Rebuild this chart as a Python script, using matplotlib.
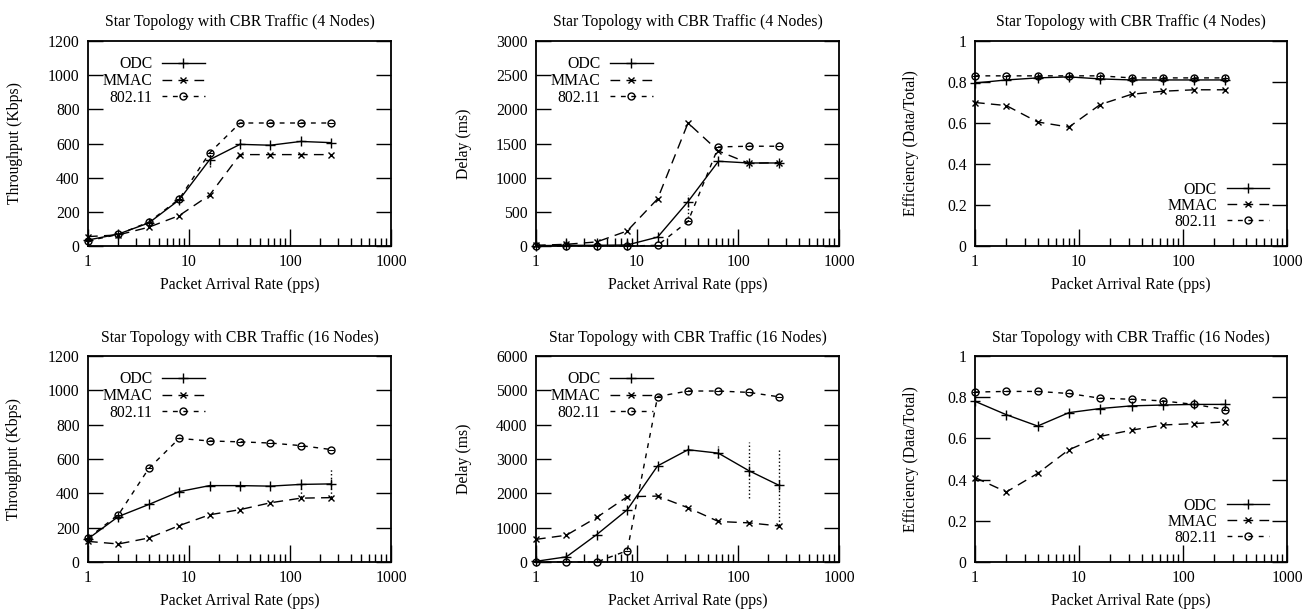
import matplotlib
matplotlib.use('Agg')
import matplotlib.pyplot as plt
from matplotlib.ticker import FormatStrFormatter, NullFormatter, NullLocator, LogLocator

plt.rcParams['font.family'] = ['Liberation Serif', 'DejaVu Serif']
plt.rcParams['font.size'] = 11.3

# packet arrival rates (pps)
rates = [1, 2, 4, 8, 16, 32, 64, 128, 256]
series_names = ['ODC', 'MMAC', '802.11']
x_ticks = [1, 10, 100, 1000]
x_tick_labels = ['1', '10', '100', '1000']

# 4 nodes
thr4_odc = [35, 70, 135, 270, 505, 595, 590, 612, 605]
thr4_mmac = [55, 65, 110, 178, 298, 535, 535, 535, 535]
thr4_wifi = [30, 68, 140, 275, 545, 720, 720, 720, 720]

dly4_odc = [5, 10, 10, 15, 130, 650, 1240, 1215, 1215]
dly4_mmac = [10, 25, 60, 220, 690, 1800, 1390, 1210, 1220]
dly4_wifi = [0, 0, 0, 0, 10, 360, 1450, 1460, 1460]

eff4_odc = [0.795, 0.81, 0.82, 0.825, 0.815, 0.81, 0.81, 0.81, 0.81]
eff4_mmac = [0.70, 0.685, 0.605, 0.58, 0.69, 0.74, 0.755, 0.762, 0.762]
eff4_wifi = [0.83, 0.83, 0.83, 0.83, 0.83, 0.82, 0.82, 0.82, 0.82]

# 16 nodes
thr16_odc = [135, 265, 335, 410, 445, 445, 442, 452, 455]
thr16_mmac = [120, 105, 140, 212, 275, 305, 345, 372, 375]
thr16_wifi = [140, 275, 545, 720, 705, 700, 693, 678, 655]

dly16_odc = [20, 150, 800, 1520, 2800, 3270, 3170, 2660, 2230]
dly16_mmac = [660, 780, 1300, 1900, 1920, 1580, 1180, 1140, 1050]
dly16_wifi = [0, 0, 0, 330, 4820, 4980, 4980, 4940, 4810]

eff16_odc = [0.78, 0.715, 0.66, 0.725, 0.745, 0.758, 0.762, 0.765, 0.765]
eff16_mmac = [0.41, 0.34, 0.43, 0.545, 0.61, 0.64, 0.665, 0.672, 0.68]
eff16_wifi = [0.825, 0.828, 0.828, 0.818, 0.795, 0.79, 0.782, 0.765, 0.74]

# visible error bars (lower, upper)
thr4_odc_err_lo = [0, 0, 0, 0, 40, 0, 0, 0, 0]
thr4_odc_err_hi = [0, 0, 0, 0, 40, 35, 0, 0, 0]
dly4_wifi_err_lo = [0, 0, 0, 0, 0, 0, 0, 0, 0]
dly4_wifi_err_hi = [0, 0, 0, 0, 0, 390, 0, 0, 0]
thr16_odc_err_lo = [0, 0, 0, 0, 0, 0, 0, 72, 75]
thr16_odc_err_hi = [0, 0, 0, 0, 0, 0, 0, 0, 91]
dly16_odc_err_lo = [0, 0, 0, 0, 0, 100, 150, 800, 1160]
dly16_odc_err_hi = [0, 0, 0, 0, 0, 100, 200, 830, 1020]


def draw_panel(ax, title, ylabel, ymax, ystep, odc, mmac, wifi, err=None,
               legend_upper=True, ylabel_x=-0.213, title_pad=11):
    ax.plot(rates, odc, color='black', lw=1, marker='+', ms=7, mew=1,
            label=series_names[0], clip_on=False)
    ax.plot(rates, mmac, color='black', lw=1, ls=(0, (7, 4.5)), marker='x', ms=5,
            mew=1, label=series_names[1], clip_on=False)
    ax.plot(rates, wifi, color='black', lw=1, ls=(0, (3.5, 4)), marker='o', ms=5,
            mew=1, mfc='none', label=series_names[2], clip_on=False)
    ax.plot(rates, wifi, ls='none', marker='_', ms=4, mew=0.8, color='black',
            clip_on=False)
    if err is not None:
        ys, lo, hi = err
        eb = ax.errorbar(rates, ys, yerr=[lo, hi], fmt='none', ecolor='black',
                         elinewidth=1, capsize=0)
        eb.lines[2][0].set_linestyle(':')

    ax.set_xscale('log')
    ax.set_xlim(1, 1000)
    ax.set_ylim(0, ymax)
    ax.set_xticks(x_ticks, labels=x_tick_labels)
    ax.xaxis.set_minor_locator(LogLocator(base=10, subs=range(2, 10)))
    ax.xaxis.set_minor_formatter(NullFormatter())
    n = int(round(ymax / ystep))
    ax.set_yticks([i * ystep for i in range(n + 1)])
    ax.yaxis.set_major_formatter(FormatStrFormatter('%g'))
    ax.yaxis.set_minor_locator(NullLocator())

    ax.tick_params(axis='both', which='both', direction='in', width=1)
    ax.tick_params(axis='y', which='major', length=11, right=True, pad=6)
    ax.tick_params(axis='x', which='major', length=12, top=False, pad=6)
    ax.tick_params(axis='x', which='minor', length=6, top=False)
    for s in ax.spines.values():
        s.set_linewidth(1.3)

    ax.set_title(title, pad=title_pad, fontsize=11.3)
    ax.set_xlabel('Packet Arrival Rate (pps)', labelpad=5)
    ax.set_ylabel(ylabel)
    ax.yaxis.set_label_coords(ylabel_x, 0.5)

    if legend_upper:
        leg = ax.legend(loc='upper right', bbox_to_anchor=(0.385, 0.925),
                        markerfirst=False, frameon=False, handlelength=2.7,
                        handletextpad=0.6, labelspacing=0.04, borderpad=0,
                        borderaxespad=0)
    else:
        leg = ax.legend(loc='lower right', bbox_to_anchor=(0.942, 0.08),
                        markerfirst=False, frameon=False, handlelength=2.7,
                        handletextpad=0.6, labelspacing=0.0, borderpad=0,
                        borderaxespad=0)
    return leg


fig = plt.figure(figsize=(13.04, 6.10), dpi=100)

W = 1304.0
H = 610.0
lefts = [88, 536, 975]
widths = [303, 303, 312]
tops = [41, 356]
heights = [205, 206]

axes = []
for r in range(2):
    for c in range(3):
        l = lefts[c] / W
        b = 1 - (tops[r] + heights[r]) / H
        axes.append(fig.add_axes([l, b, widths[c] / W, heights[r] / H]))

t4 = 'Star Topology with CBR Traffic (4 Nodes)'
t16 = 'Star Topology with CBR Traffic (16 Nodes)'

draw_panel(axes[0], t4, 'Throughput (Kbps)', 1200, 200, thr4_odc, thr4_mmac, thr4_wifi,
           err=(thr4_odc, thr4_odc_err_lo, thr4_odc_err_hi), ylabel_x=-0.215)
draw_panel(axes[1], t4, 'Delay (ms)', 3000, 500, dly4_odc, dly4_mmac, dly4_wifi,
           err=(dly4_wifi, dly4_wifi_err_lo, dly4_wifi_err_hi), ylabel_x=-0.211)
draw_panel(axes[2], t4, 'Efficiency (Data/Total)', 1, 0.2, eff4_odc, eff4_mmac, eff4_wifi,
           legend_upper=False, ylabel_x=-0.179)
draw_panel(axes[3], t16, 'Throughput (Kbps)', 1200, 200, thr16_odc, thr16_mmac, thr16_wifi,
           err=(thr16_odc, thr16_odc_err_lo, thr16_odc_err_hi), ylabel_x=-0.218, title_pad=10)
draw_panel(axes[4], t16, 'Delay (ms)', 6000, 1000, dly16_odc, dly16_mmac, dly16_wifi,
           err=(dly16_odc, dly16_odc_err_lo, dly16_odc_err_hi), ylabel_x=-0.211, title_pad=10)
draw_panel(axes[5], t16, 'Efficiency (Data/Total)', 1, 0.2, eff16_odc, eff16_mmac, eff16_wifi,
           legend_upper=False, ylabel_x=-0.179, title_pad=10)

fig.savefig('out.png', dpi=100)
plt.close(fig)
